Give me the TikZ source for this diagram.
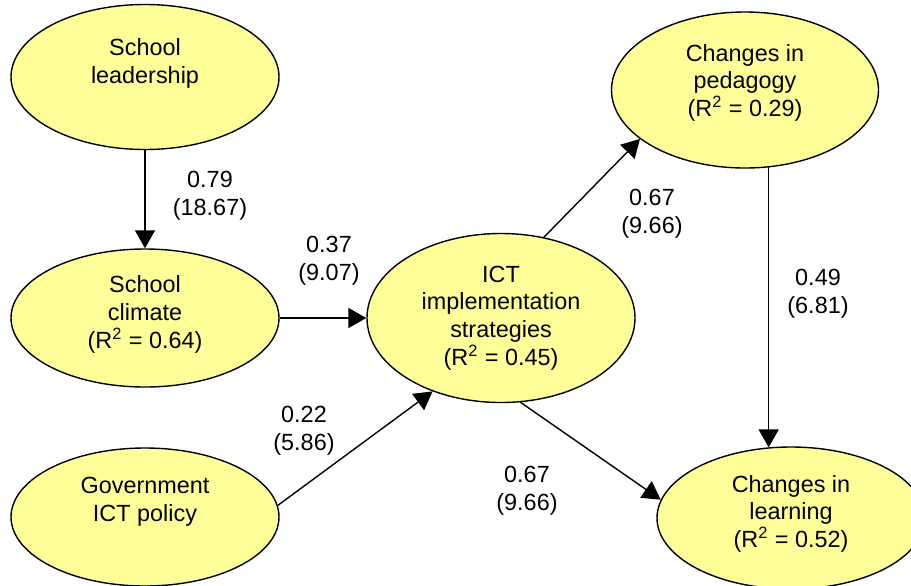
\documentclass[tikz,border=0pt]{standalone}
\usepackage{fontspec}
\setmainfont{Liberation Sans}
\usetikzlibrary{shapes.geometric,arrows.meta}
\definecolor{paleyellow}{RGB}{255,255,153}

\begin{document}
\begin{tikzpicture} [x=0.5pt, y=-0.5pt, ->, >={Triangle[length=9pt,width=10pt]}, line width=0.7pt, font=\fontsize{11.7}{13.8}\selectfont]
  \tikzstyle{construct}=[ellipse, draw=black, fill=paleyellow, inner sep=0pt, align=center, minimum width=134pt, minimum height=70pt]
  \tikzstyle{coef}=[align=center]
  \useasboundingbox (0,0) rectangle (911,585);

  \node[construct, minimum height=72.5pt, text depth=2pt] (lead) at (145,77) {School\\leadership\\\phantom{x}};
  \node[construct, minimum height=69pt, text depth=6pt] (clim) at (145,318) {School\\climate\\(R\textsuperscript{2} = 0.64)};
  \node[construct, minimum height=69pt, text depth=4pt] (gov) at (145,517) {Government\\ICT policy\\\phantom{x}};
  \node[construct, minimum height=84.5pt] (ict) at (501,318) {ICT\\implementation\\strategies\\(R\textsuperscript{2} = 0.45)};
  \node[construct, minimum width=133.5pt, minimum height=78pt, text depth=9.5pt] (ped) at (745,90) {Changes in\\pedagogy\\(R\textsuperscript{2} = 0.29)};
  \node[construct, minimum height=71pt, text depth=6.5pt] (learn) at (791,518) {Changes in\\learning\\(R\textsuperscript{2} = 0.52)};

  \draw (lead.south) -- (clim.north);
  \draw (clim.east) -- (ict.west);
  \draw (gov.5) -- (ict.227);
  \draw (ict.62) -- (ped.205);
  \draw (ict.283) -- (learn.172);
  \draw (ped.287) -- (ped.287 |- learn.108);

  \node[coef] (c-lead) at (210,196) {0.79\\(18.67)};
  \node[coef] (c-clim) at (329,261) {0.37\\(9.07)};
  \node[coef] (c-gov) at (304,431) {0.22\\(5.86)};
  \node[coef] (c-ped) at (652,214) {0.67\\(9.66)};
  \node[coef] (c-learn) at (527,491) {0.67\\(9.66)};
  \node[coef] (c-pl) at (818,294) {0.49\\(6.81)};

\end{tikzpicture}
\end{document}
